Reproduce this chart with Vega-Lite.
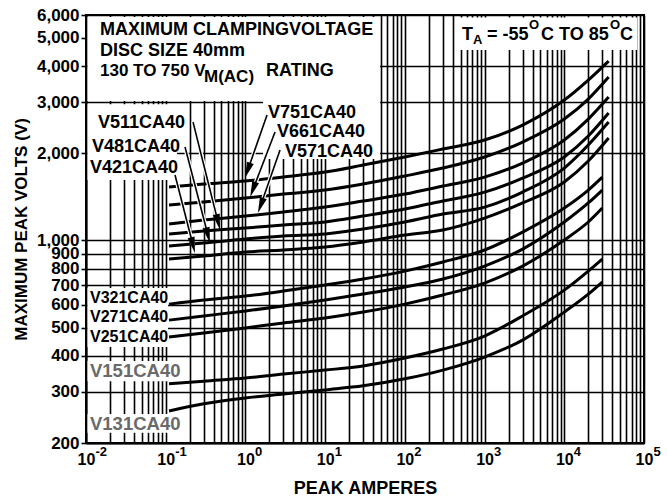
{
  "$schema": "https://vega.github.io/schema/vega-lite/v6.json",
  "width": 558,
  "height": 428,
  "autosize": {"type": "none"},
  "padding": {"left": 86, "top": 15, "right": 23, "bottom": 56},
  "background": "white",
  "config": {
    "view": {"stroke": "black", "strokeWidth": 2},
    "text": {"font": "Liberation Sans", "fontWeight": "bold"},
    "axis": {"labelFont": "Liberation Sans", "titleFont": "Liberation Sans"}
  },
  "datasets": {
    "curves": [
      {"s": "V751", "a": 0.11, "v": 1529}, {"s": "V751", "a": 0.3, "v": 1566}, {"s": "V751", "a": 1, "v": 1604}, {"s": "V751", "a": 3, "v": 1655}, {"s": "V751", "a": 10, "v": 1722}, {"s": "V751", "a": 30, "v": 1821}, {"s": "V751", "a": 100, "v": 1941}, {"s": "V751", "a": 300, "v": 2068}, {"s": "V751", "a": 1000, "v": 2221}, {"s": "V751", "a": 3000, "v": 2502}, {"s": "V751", "a": 10000, "v": 3052}, {"s": "V751", "a": 20000, "v": 3578}, {"s": "V751", "a": 36000, "v": 4160},
      {"s": "V661", "a": 0.11, "v": 1325}, {"s": "V661", "a": 0.3, "v": 1357}, {"s": "V661", "a": 1, "v": 1401}, {"s": "V661", "a": 3, "v": 1446}, {"s": "V661", "a": 10, "v": 1493}, {"s": "V661", "a": 30, "v": 1566}, {"s": "V661", "a": 100, "v": 1669}, {"s": "V661", "a": 300, "v": 1778}, {"s": "V661", "a": 1000, "v": 1941}, {"s": "V661", "a": 3000, "v": 2186}, {"s": "V661", "a": 10000, "v": 2624}, {"s": "V661", "a": 20000, "v": 3076}, {"s": "V661", "a": 36000, "v": 3664},
      {"s": "V571", "a": 0.11, "v": 1140}, {"s": "V571", "a": 0.3, "v": 1176}, {"s": "V571", "a": 1, "v": 1214}, {"s": "V571", "a": 3, "v": 1254}, {"s": "V571", "a": 10, "v": 1304}, {"s": "V571", "a": 30, "v": 1368}, {"s": "V571", "a": 100, "v": 1446}, {"s": "V571", "a": 300, "v": 1541}, {"s": "V571", "a": 1000, "v": 1655}, {"s": "V571", "a": 3000, "v": 1850}, {"s": "V571", "a": 10000, "v": 2221}, {"s": "V571", "a": 20000, "v": 2624}, {"s": "V571", "a": 36000, "v": 3126},
      {"s": "V511", "a": 0.11, "v": 1052}, {"s": "V511", "a": 0.3, "v": 1078}, {"s": "V511", "a": 1, "v": 1104}, {"s": "V511", "a": 3, "v": 1131}, {"s": "V511", "a": 10, "v": 1158}, {"s": "V511", "a": 30, "v": 1214}, {"s": "V511", "a": 100, "v": 1284}, {"s": "V511", "a": 300, "v": 1368}, {"s": "V511", "a": 1000, "v": 1469}, {"s": "V511", "a": 3000, "v": 1642}, {"s": "V511", "a": 10000, "v": 1941}, {"s": "V511", "a": 20000, "v": 2293}, {"s": "V511", "a": 36000, "v": 2752},
      {"s": "V481", "a": 0.11, "v": 957}, {"s": "V481", "a": 0.3, "v": 980}, {"s": "V481", "a": 1, "v": 1012}, {"s": "V481", "a": 3, "v": 1036}, {"s": "V481", "a": 10, "v": 1052}, {"s": "V481", "a": 30, "v": 1095}, {"s": "V481", "a": 100, "v": 1158}, {"s": "V481", "a": 300, "v": 1234}, {"s": "V481", "a": 1000, "v": 1304}, {"s": "V481", "a": 3000, "v": 1469}, {"s": "V481", "a": 10000, "v": 1778}, {"s": "V481", "a": 20000, "v": 2135}, {"s": "V481", "a": 36000, "v": 2562},
      {"s": "V421", "a": 0.11, "v": 863}, {"s": "V421", "a": 0.3, "v": 884}, {"s": "V421", "a": 1, "v": 912}, {"s": "V421", "a": 3, "v": 927}, {"s": "V421", "a": 10, "v": 949}, {"s": "V421", "a": 30, "v": 988}, {"s": "V421", "a": 100, "v": 1044}, {"s": "V421", "a": 300, "v": 1087}, {"s": "V421", "a": 1000, "v": 1195}, {"s": "V421", "a": 3000, "v": 1347}, {"s": "V421", "a": 10000, "v": 1591}, {"s": "V421", "a": 20000, "v": 1880}, {"s": "V421", "a": 36000, "v": 2257},
      {"s": "V321", "a": 0.11, "v": 603}, {"s": "V321", "a": 0.3, "v": 623}, {"s": "V321", "a": 1, "v": 643}, {"s": "V321", "a": 3, "v": 669}, {"s": "V321", "a": 10, "v": 702}, {"s": "V321", "a": 30, "v": 736}, {"s": "V321", "a": 100, "v": 784}, {"s": "V321", "a": 300, "v": 843}, {"s": "V321", "a": 1000, "v": 927}, {"s": "V321", "a": 3000, "v": 1069}, {"s": "V321", "a": 10000, "v": 1294}, {"s": "V321", "a": 20000, "v": 1493}, {"s": "V321", "a": 30000, "v": 1655},
      {"s": "V271", "a": 0.11, "v": 531}, {"s": "V271", "a": 0.3, "v": 549}, {"s": "V271", "a": 1, "v": 571}, {"s": "V271", "a": 3, "v": 594}, {"s": "V271", "a": 10, "v": 623}, {"s": "V271", "a": 30, "v": 653}, {"s": "V271", "a": 100, "v": 691}, {"s": "V271", "a": 300, "v": 736}, {"s": "V271", "a": 1000, "v": 816}, {"s": "V271", "a": 3000, "v": 934}, {"s": "V271", "a": 10000, "v": 1158}, {"s": "V271", "a": 20000, "v": 1347}, {"s": "V271", "a": 30000, "v": 1493},
      {"s": "V251", "a": 0.11, "v": 464}, {"s": "V251", "a": 0.3, "v": 479}, {"s": "V251", "a": 1, "v": 499}, {"s": "V251", "a": 3, "v": 519}, {"s": "V251", "a": 10, "v": 540}, {"s": "V251", "a": 30, "v": 566}, {"s": "V251", "a": 100, "v": 603}, {"s": "V251", "a": 300, "v": 648}, {"s": "V251", "a": 1000, "v": 713}, {"s": "V251", "a": 3000, "v": 816}, {"s": "V251", "a": 10000, "v": 1004}, {"s": "V251", "a": 20000, "v": 1158}, {"s": "V251", "a": 30000, "v": 1294},
      {"s": "V151", "a": 0.11, "v": 320}, {"s": "V151", "a": 0.3, "v": 327}, {"s": "V151", "a": 1, "v": 335}, {"s": "V151", "a": 3, "v": 346}, {"s": "V151", "a": 10, "v": 357}, {"s": "V151", "a": 30, "v": 369}, {"s": "V151", "a": 100, "v": 393}, {"s": "V151", "a": 300, "v": 422}, {"s": "V151", "a": 1000, "v": 468}, {"s": "V151", "a": 3000, "v": 549}, {"s": "V151", "a": 10000, "v": 674}, {"s": "V151", "a": 20000, "v": 784}, {"s": "V151", "a": 30000, "v": 863},
      {"s": "V131", "a": 0.11, "v": 258}, {"s": "V131", "a": 0.3, "v": 273}, {"s": "V131", "a": 1, "v": 286}, {"s": "V131", "a": 3, "v": 295}, {"s": "V131", "a": 10, "v": 305}, {"s": "V131", "a": 30, "v": 315}, {"s": "V131", "a": 100, "v": 333}, {"s": "V131", "a": 300, "v": 357}, {"s": "V131", "a": 1000, "v": 396}, {"s": "V131", "a": 3000, "v": 453}, {"s": "V131", "a": 10000, "v": 566}, {"s": "V131", "a": 20000, "v": 653}, {"s": "V131", "a": 30000, "v": 719}
    ],
    "arrows": [
      {"s": "V751", "a": 1.866, "v": 2710, "a2": 1.066, "v2": 1745},
      {"s": "V661", "a": 2.352, "v": 2367, "a2": 1.242, "v2": 1499},
      {"s": "V571", "a": 2.717, "v": 2052, "a2": 1.551, "v2": 1321},
      {"s": "V511", "a": 0.2201, "v": 2562, "a2": 0.4546, "v2": 1156},
      {"s": "V481", "a": 0.1747, "v": 2101, "a2": 0.3393, "v2": 1042},
      {"s": "V421", "a": 0.1308, "v": 1682, "a2": 0.2201, "v2": 963}
    ],
    "headsLeft": [
      {"s": "V751", "a": 1.066, "v": 1745},
      {"s": "V661", "a": 1.242, "v": 1499},
      {"s": "V571", "a": 1.551, "v": 1321}
    ],
    "headsRight": [
      {"s": "V511", "a": 0.4546, "v": 1156},
      {"s": "V481", "a": 0.3393, "v": 1042},
      {"s": "V421", "a": 0.2201, "v": 963}
    ],
    "boxes": [
      {"a": 0.01044, "a2": 48.85, "v": 3028, "v2": 5902},
      {"a": 0.01044, "a2": 0.1386, "v": 1616, "v2": 2950},
      {"a": 1.663, "a2": 48.85, "v": 1910, "v2": 3050},
      {"a": 451.9, "a2": 81900, "v": 4540, "v2": 5880},
      {"a": 0.01044, "a2": 0.1069, "v": 429, "v2": 685},
      {"a": 0.01044, "a2": 0.1556, "v": 327, "v2": 384},
      {"a": 0.01044, "a2": 0.1556, "v": 217, "v2": 252}
    ],
    "text18": [
      {"t": "MAXIMUM CLAMPINGVOLTAGE", "a": 0.01498, "v": 5116},
      {"t": "DISC SIZE 40mm", "a": 0.01498, "v": 4329},
      {"t": "RATING", "a": 1.813, "v": 3694},
      {"t": "V751CA40", "a": 1.921, "v": 2640},
      {"t": "V661CA40", "a": 2.492, "v": 2269},
      {"t": "V571CA40", "a": 3.14, "v": 1945},
      {"t": "V511CA40", "a": 0.01414, "v": 2438},
      {"t": "V481CA40", "a": 0.01189, "v": 2024},
      {"t": "V421CA40", "a": 0.01122, "v": 1713},
      {"t": "T", "a": 522.1, "v": 4936},
      {"t": "= -55", "a": 1075, "v": 4936},
      {"t": "C TO 85", "a": 5116, "v": 4936},
      {"t": "C", "a": 50130, "v": 4936}
    ],
    "text17": [
      {"t": "130 TO 750 V", "a": 0.01498, "v": 3694},
      {"t": "M(AC)", "a": 0.3022, "v": 3530}
    ],
    "text16": [
      {"t": "V321CA40", "a": 0.01122, "v": 607},
      {"t": "V271CA40", "a": 0.01122, "v": 524},
      {"t": "V251CA40", "a": 0.01122, "v": 445}
    ],
    "text13": [
      {"t": "A", "a": 717.4, "v": 4762},
      {"t": "O", "a": 3616, "v": 5366},
      {"t": "O", "a": 37560, "v": 5366}
    ],
    "textGray": [
      {"t": "V151CA40", "a": 0.01122, "v": 337},
      {"t": "V131CA40", "a": 0.01122, "v": 221}
    ],
    "exponents": [
      {"e": "-2", "a": 0.01, "v": 200},
      {"e": "-1", "a": 0.1, "v": 200},
      {"e": "0", "a": 1, "v": 200},
      {"e": "1", "a": 10, "v": 200},
      {"e": "2", "a": 100, "v": 200},
      {"e": "3", "a": 1000, "v": 200},
      {"e": "4", "a": 10000, "v": 200},
      {"e": "5", "a": 100000, "v": 200}
    ]
  },
  "encoding": {
    "x": {
      "field": "a",
      "type": "quantitative",
      "scale": {"type": "log", "domain": [0.01, 100000], "nice": false},
      "axis": {
        "title": "PEAK AMPERES",
        "titleFontSize": 18,
        "titleFontWeight": "bold",
        "titleColor": "black",
        "titlePadding": 12,
        "values": [0.01, 0.02, 0.03, 0.04, 0.05, 0.06, 0.07, 0.08, 0.09, 0.1, 0.2, 0.3, 0.4, 0.5, 0.6, 0.7, 0.8, 0.9, 1, 2, 3, 4, 5, 6, 7, 8, 9, 10, 20, 30, 40, 50, 60, 70, 80, 90, 100, 200, 300, 400, 500, 600, 700, 800, 900, 1000, 2000, 3000, 4000, 5000, 6000, 7000, 8000, 9000, 10000, 20000, 30000, 40000, 50000, 60000, 70000, 80000, 90000, 100000],
        "labelExpr": "abs(log(datum.value)/LN10 - round(log(datum.value)/LN10)) < 0.001 ? '10' : ''",
        "labelFontSize": 16,
        "labelFontWeight": "bold",
        "labelColor": "black",
        "labelPadding": 8,
        "labelFlush": false,
        "labelOverlap": false,
        "labelBound": false,
        "ticks": false,
        "tickSize": 0,
        "grid": true,
        "gridColor": "black",
        "gridWidth": 1.6,
        "gridOpacity": 1,
        "domainColor": "black",
        "domainWidth": 2
      }
    },
    "y": {
      "field": "v",
      "type": "quantitative",
      "scale": {"type": "log", "domain": [200, 6000], "nice": false},
      "axis": {
        "title": "MAXIMUM PEAK VOLTS (V)",
        "titleFontSize": 17,
        "titleFontWeight": "bold",
        "titleColor": "black",
        "titlePadding": 6,
        "values": [200, 300, 400, 500, 600, 700, 800, 900, 1000, 2000, 3000, 4000, 5000, 6000],
        "format": ",",
        "labelFontSize": 17,
        "labelFontWeight": "bold",
        "labelColor": "black",
        "labelPadding": 2,
        "labelFlush": false,
        "labelOverlap": false,
        "labelBound": false,
        "ticks": true,
        "tickSize": 5,
        "tickColor": "black",
        "tickWidth": 1.6,
        "grid": true,
        "gridColor": "black",
        "gridWidth": 1.6,
        "gridOpacity": {"condition": {"test": "datum.value === 5000", "value": 0}, "value": 1},
        "domainColor": "black",
        "domainWidth": 2
      }
    }
  },
  "layer": [
    {
      "data": {"name": "boxes"},
      "mark": {"type": "rect", "fill": "white", "stroke": null},
      "encoding": {"x2": {"field": "a2"}, "y2": {"field": "v2"}}
    },
    {
      "data": {"name": "curves"},
      "mark": {"type": "line", "color": "black", "strokeWidth": 3, "interpolate": "monotone", "strokeCap": "butt"},
      "encoding": {"detail": {"field": "s", "type": "nominal"}}
    },
    {
      "data": {"name": "arrows"},
      "mark": {"type": "rule", "color": "white", "strokeWidth": 4},
      "encoding": {"x2": {"field": "a2"}, "y2": {"field": "v2"}}
    },
    {
      "data": {"name": "arrows"},
      "mark": {"type": "rule", "color": "black", "strokeWidth": 1.6},
      "encoding": {"x2": {"field": "a2"}, "y2": {"field": "v2"}}
    },
    {
      "data": {"name": "headsLeft"},
      "mark": {"type": "point", "shape": "M0,-1L0.45,1L-0.45,1Z", "size": 256, "angle": 200, "filled": true, "color": "black", "opacity": 1}
    },
    {
      "data": {"name": "headsRight"},
      "mark": {"type": "point", "shape": "M0,-1L0.45,1L-0.45,1Z", "size": 256, "angle": 166, "filled": true, "color": "black", "opacity": 1}
    },
    {
      "data": {"name": "text18"},
      "mark": {"type": "text", "fontSize": 18, "align": "left", "baseline": "alphabetic", "color": "black"},
      "encoding": {"text": {"field": "t"}}
    },
    {
      "data": {"name": "text17"},
      "mark": {"type": "text", "fontSize": 17, "align": "left", "baseline": "alphabetic", "color": "black"},
      "encoding": {"text": {"field": "t"}}
    },
    {
      "data": {"name": "text16"},
      "mark": {"type": "text", "fontSize": 16, "align": "left", "baseline": "alphabetic", "color": "black"},
      "encoding": {"text": {"field": "t"}}
    },
    {
      "data": {"name": "text13"},
      "mark": {"type": "text", "fontSize": 13, "align": "left", "baseline": "alphabetic", "color": "black"},
      "encoding": {"text": {"field": "t"}}
    },
    {
      "data": {"name": "textGray"},
      "mark": {"type": "text", "fontSize": 18.5, "align": "left", "baseline": "alphabetic", "color": "#6a6a6a"},
      "encoding": {"text": {"field": "t"}}
    },
    {
      "data": {"name": "exponents"},
      "mark": {"type": "text", "fontSize": 13, "align": "left", "baseline": "alphabetic", "color": "black", "dx": 9.5, "dy": 13},
      "encoding": {"text": {"field": "e"}}
    }
  ]
}
